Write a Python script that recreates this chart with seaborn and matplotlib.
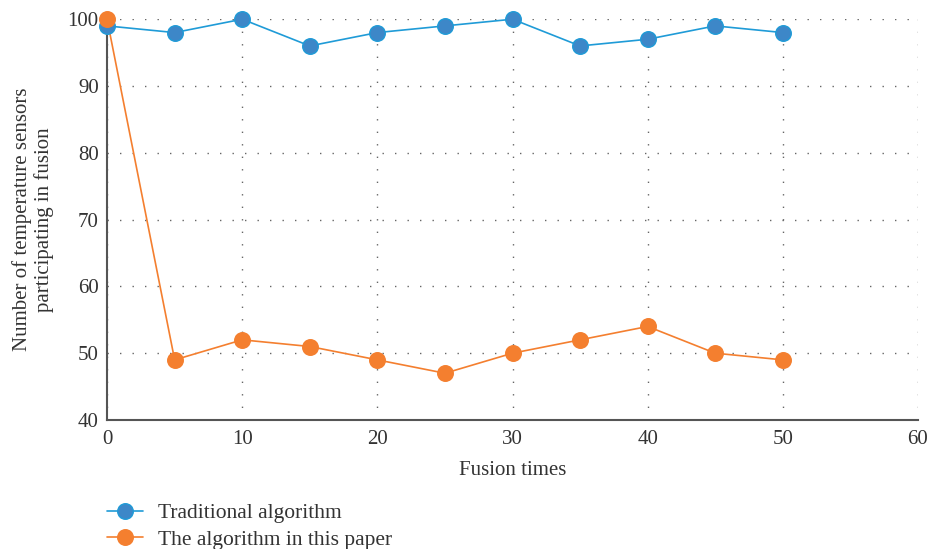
import matplotlib
matplotlib.use("Agg")
import matplotlib.pyplot as plt
from matplotlib.lines import Line2D
import seaborn as sns
import pandas as pd

fusion_times = [0, 5, 10, 15, 20, 25, 30, 35, 40, 45, 50]
traditional = [99, 98, 100, 96, 98, 99, 100, 96, 97, 99, 98]
this_paper = [100, 49, 52, 51, 49, 47, 50, 52, 54, 50, 49]
series_names = ["Traditional algorithm", "The algorithm in this paper"]

df = pd.DataFrame({
    "Fusion times": fusion_times * 2,
    "value": traditional + this_paper,
    "series": [series_names[0]] * len(fusion_times) + [series_names[1]] * len(fusion_times),
})

sns.set_style("white")
plt.rcParams["font.family"] = ["Liberation Serif", "DejaVu Serif"]

fig = plt.figure(figsize=(9.31, 5.49), dpi=100)
ax = fig.add_axes([0.115, 0.235, 0.871, 0.73])

palette = {series_names[0]: "#1f9bd7", series_names[1]: "#f47f2f"}
sns.lineplot(data=df, x="Fusion times", y="value", hue="series",
             palette=palette, linewidth=1.2, ax=ax, legend=False)

# markers drawn on top (blue face slightly darker than its line)
for name, vals, face, edge in [(series_names[0], traditional, "#3d87c8", "#1f9bd7"),
                               (series_names[1], this_paper, "#f47f2f", "#f47f2f")]:
    ax.plot(fusion_times, vals, linestyle="none", marker="o", markersize=11.2,
            markerfacecolor=face, markeredgecolor=edge, markeredgewidth=1, zorder=3,
            clip_on=False)

ax.set_xlim(0, 60)
ax.set_ylim(40, 100)
ax.set_xticks(range(0, 61, 10))
ax.set_yticks(range(40, 101, 10))
ax.grid(True, linestyle=(0, (1, 8)), color="#666666", linewidth=1)
ax.tick_params(labelsize=15, length=0, colors="#333333")
ax.tick_params(axis="x", pad=7)
ax.tick_params(axis="y", pad=6)
for s in ["top", "right"]:
    ax.spines[s].set_visible(False)
for s in ["left", "bottom"]:
    ax.spines[s].set_color("#555555")
    ax.spines[s].set_linewidth(1.5)

ax.set_xlabel("Fusion times", fontsize=15, color="#333333", labelpad=9)
ax.set_ylabel("Number of temperature sensors\nparticipating in fusion",
              fontsize=15, color="#333333", labelpad=10, linespacing=1.1)

handles = [
    Line2D([], [], color="#1f9bd7", marker="o", markersize=11.2,
           markerfacecolor="#3d87c8", markeredgecolor="#1f9bd7", linewidth=1.2),
    Line2D([], [], color="#f47f2f", marker="o", markersize=11.2,
           markerfacecolor="#f47f2f", markeredgecolor="#f47f2f", linewidth=1.2),
]
fig.legend(handles, series_names, loc="upper left",
           bbox_to_anchor=(107 / 931, 1 - 503 / 549),
           frameon=False, fontsize=15.5, handlelength=1.65, labelspacing=0.3,
           handletextpad=0.7, borderpad=0, borderaxespad=0, labelcolor="#333333")

fig.savefig("out.png", dpi=100)
